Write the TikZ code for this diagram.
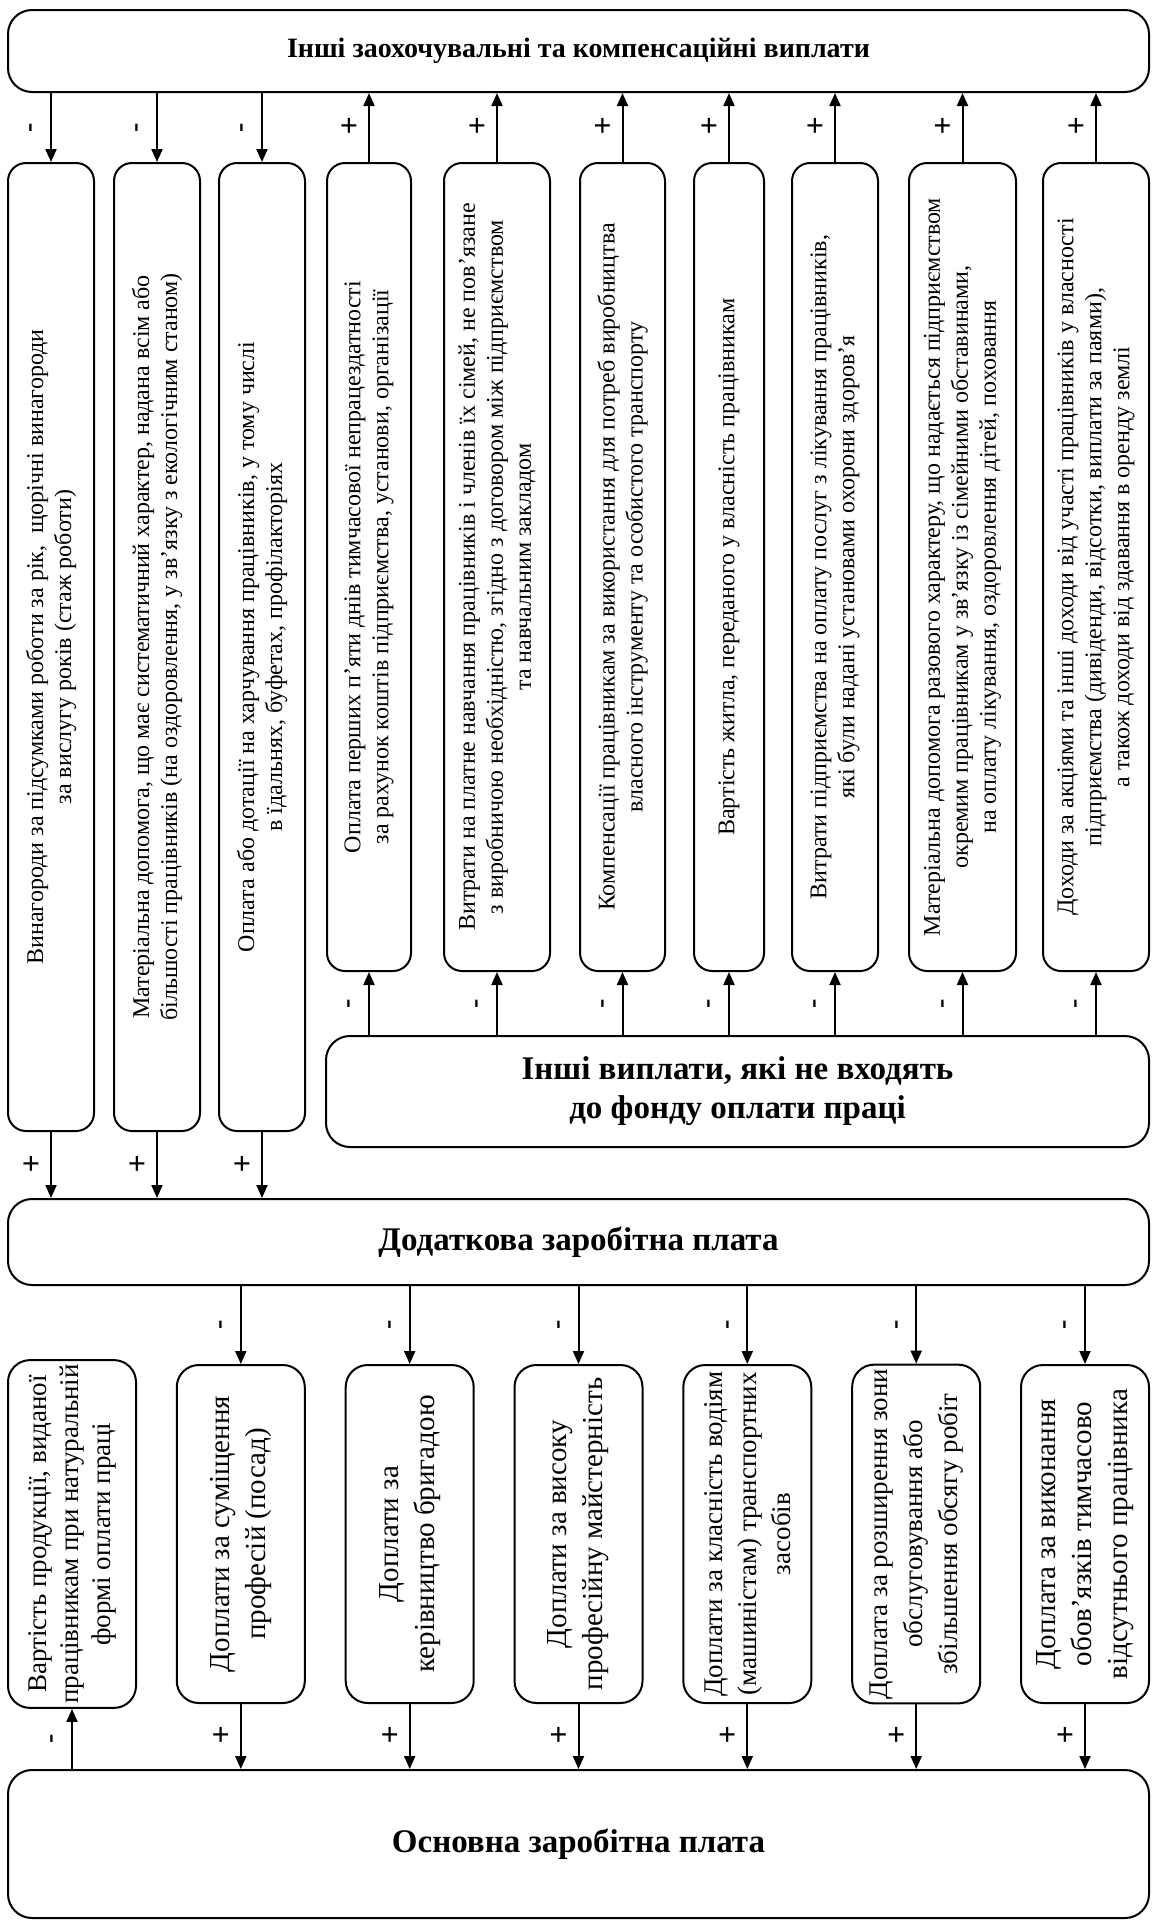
\documentclass[tikz,border=0pt]{standalone}
\usepackage{fontspec}
\setmainfont{Liberation Serif}
\usepackage{tikz}
\usetikzlibrary{arrows.meta}
\tikzstyle{bigbox} = [draw, line width=1pt, rectangle, rounded corners=12pt,
    font=\fontsize{16.5}{19.5}\selectfont\bfseries, align=center]
\tikzstyle{colbox} = [draw, line width=1pt, rectangle, rounded corners=9pt,
    rotate=90, align=center, font=\fontsize{12}{14}\selectfont]
\tikzstyle{lowbox} = [draw, line width=1pt, rectangle, rounded corners=11pt,
    rotate=90, align=center, font=\fontsize{14.5}{18}\selectfont, inner sep=2pt,
    minimum width=169pt, minimum height=64pt]
\tikzstyle{plussign} = [font=\fontsize{16}{16}\selectfont\bfseries, xshift=-10pt]
\tikzstyle{minussign} = [font=\fontsize{14}{14}\selectfont\bfseries, xshift=-8.5pt, rotate=90]
\tikzstyle{line} = [line width=1pt, -{Triangle[length=6.5pt,width=5.5pt]}]

\begin{document}
\begin{tikzpicture}[x=0.5pt, y=-0.5pt]
	\useasboundingbox (0,0) rectangle (1152,1928);

	% Top box
	\node [bigbox, minimum width=570.5pt, minimum height=41pt,
		font=\fontsize{14}{17}\selectfont\bfseries] (top) at (578.5,51)
		{Інші заохочувальні та компенсаційні виплати};

	% Columns going into the top box
	\node [colbox, minimum width=484pt, minimum height=43pt] (c1) at (51,647)
		{Винагороди за підсумками роботи за рік,~ щорічні винагороди\\за вислугу років (стаж роботи)};
	\node [colbox, minimum width=484pt, minimum height=43pt] (c2) at (157,647)
		{Матеріальна допомога, що має систематичний характер, надана всім або\\більшості працівників (на оздоровлення, у зв'язку з екологічним станом)};
	\node [colbox, minimum width=484pt, minimum height=43pt] (c3) at (262,647)
		{Оплата або дотації на харчування працівників, у тому числі\\в їдальнях, буфетах, профілакторіях};

	% Columns coming from the top box
	\node [colbox, minimum width=404pt, minimum height=42pt] (r1) at (369,567)
		{Оплата перших п'яти днів тимчасової непрацездатності\\за рахунок коштів підприємства, установи, організації};
	\node [colbox, minimum width=404pt, minimum height=53pt] (r2) at (497,567)
		{Витрати на платне навчання працівників і членів їх сімей, не пов'язане\\з виробничою необхідністю, згідно з договором між підприємством\\та навчальним закладом};
	\node [colbox, minimum width=404pt, minimum height=42.5pt] (r3) at (622.5,567)
		{Компенсації працівникам за використання для потреб виробництва\\власного інструменту та особистого транспорту};
	\node [colbox, minimum width=404pt, minimum height=35pt] (r4) at (729,567)
		{Вартість житла, переданого у власність працівникам};
	\node [colbox, minimum width=404pt, minimum height=43pt] (r5) at (835,567)
		{Витрати підприємства на оплату послуг з лікування працівників,\\які були надані установами охорони здоров'я};
	\node [colbox, minimum width=404pt, minimum height=53.5pt] (r6) at (962.5,567)
		{Матеріальна допомога разового характеру, що надається підприємством\\окремим працівникам у зв'язку із сімейними обставинами,\\на оплату лікування, оздоровлення дітей, поховання};
	\node [colbox, minimum width=404pt, minimum height=53pt] (r7) at (1096,567)
		{Доходи за акціями та інші доходи від участі працівників у власності\\підприємства (дивіденди, відсотки, виплати за паями),\\а також доходи від здавання в оренду землі};

	% Other payments box
	\node [bigbox, minimum width=411.5pt, minimum height=55.5pt] (other) at (737.5,1091.5)
		{Інші виплати, які не входять\\до фонду оплати праці};

	% Additional wage box
	\node [bigbox, minimum width=570.5pt, minimum height=43pt] (extra) at (578.5,1242)
		{Додаткова заробітна плата};

	% Bottom columns
	\node [lowbox, font=\fontsize{13.5}{16}\selectfont] (b1) at (72,1534)
		{Вартість продукції, виданої\\працівникам при натуральній\\формі оплати праці};
	\node [lowbox] (b2) at (240.8,1534) {Доплати за суміщення\\професій (посад)};
	\node [lowbox] (b3) at (409.7,1534) {Доплати за\\керівництво бригадою};
	\node [lowbox] (b4) at (578.5,1534) {Доплати за високу\\професійну майстерність};
	\node [lowbox, font=\fontsize{13.5}{17}\selectfont] (b5) at (747.3,1534)
		{Доплати за класність водіям\\(машиністам) транспортних\\засобів};
	\node [lowbox, font=\fontsize{13.5}{17.5}\selectfont] (b6) at (916.2,1534)
		{Доплата за розширення зони\\обслуговування або\\збільшення обсягу робіт};
	\node [lowbox] (b7) at (1085,1534) {Доплата за виконання\\обов'язків тимчасово\\відсутнього працівника};

	% Basic wage box
	\node [bigbox, minimum width=570.5pt, minimum height=74pt] (base) at (578.5,1844)
		{Основна заробітна плата};

	% Connections with the top box
	\draw [line] (c1.east |- top.south) -- node [minussign] {-} (c1.east);
	\draw [line] (c2.east |- top.south) -- node [minussign] {-} (c2.east);
	\draw [line] (c3.east |- top.south) -- node [minussign] {-} (c3.east);
	\draw [line] (r1.east) -- node [plussign] {+} (r1.east |- top.south);
	\draw [line] (r2.east) -- node [plussign] {+} (r2.east |- top.south);
	\draw [line] (r3.east) -- node [plussign] {+} (r3.east |- top.south);
	\draw [line] (r4.east) -- node [plussign] {+} (r4.east |- top.south);
	\draw [line] (r5.east) -- node [plussign] {+} (r5.east |- top.south);
	\draw [line] (r6.east) -- node [plussign] {+} (r6.east |- top.south);
	\draw [line] (r7.east) -- node [plussign] {+} (r7.east |- top.south);

	% Connections with the other payments box
	\draw [line] (r1.west |- other.north) -- node [minussign] {-} (r1.west);
	\draw [line] (r2.west |- other.north) -- node [minussign] {-} (r2.west);
	\draw [line] (r3.west |- other.north) -- node [minussign] {-} (r3.west);
	\draw [line] (r4.west |- other.north) -- node [minussign] {-} (r4.west);
	\draw [line] (r5.west |- other.north) -- node [minussign] {-} (r5.west);
	\draw [line] (r6.west |- other.north) -- node [minussign] {-} (r6.west);
	\draw [line] (r7.west |- other.north) -- node [minussign] {-} (r7.west);

	% Connections with the additional wage box
	\draw [line] (c1.west) -- node [plussign] {+} (c1.west |- extra.north);
	\draw [line] (c2.west) -- node [plussign] {+} (c2.west |- extra.north);
	\draw [line] (c3.west) -- node [plussign] {+} (c3.west |- extra.north);
	\draw [line] (b2.east |- extra.south) -- node [minussign] {-} (b2.east);
	\draw [line] (b3.east |- extra.south) -- node [minussign] {-} (b3.east);
	\draw [line] (b4.east |- extra.south) -- node [minussign] {-} (b4.east);
	\draw [line] (b5.east |- extra.south) -- node [minussign] {-} (b5.east);
	\draw [line] (b6.east |- extra.south) -- node [minussign] {-} (b6.east);
	\draw [line] (b7.east |- extra.south) -- node [minussign] {-} (b7.east);

	% Connections with the basic wage box
	\draw [line] (b1.west |- base.north) -- node [minussign] {-} (b1.west);
	\draw [line] (b2.west) -- node [plussign] {+} (b2.west |- base.north);
	\draw [line] (b3.west) -- node [plussign] {+} (b3.west |- base.north);
	\draw [line] (b4.west) -- node [plussign] {+} (b4.west |- base.north);
	\draw [line] (b5.west) -- node [plussign] {+} (b5.west |- base.north);
	\draw [line] (b6.west) -- node [plussign] {+} (b6.west |- base.north);
	\draw [line] (b7.west) -- node [plussign] {+} (b7.west |- base.north);
\end{tikzpicture}
\end{document}
